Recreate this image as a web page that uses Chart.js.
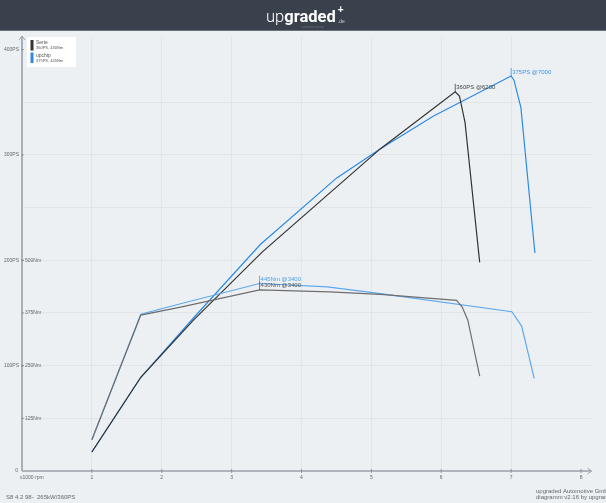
<!DOCTYPE html>
<html>
<head>
<meta charset="utf-8">
<script src="https://cdn.jsdelivr.net/npm/chart.js@4/dist/chart.umd.min.js"></script>
<style>
  html, body { margin: 0; padding: 0; background: #edf0f3; }
  canvas { display: block; }
</style>
</head>
<body>
<canvas id="dyno" width="606" height="503"></canvas>
<script>
// Serie (stock) curves, x in 1000 rpm
const serieRpmPs = [1.0, 1.7, 2.45, 3.44, 5.13, 6.2, 6.26, 6.34, 6.55];
const seriePs    = [18, 89, 143, 208, 306, 360, 356, 331, 198];
const serieRpmNm = [1.0, 1.7, 2.27, 3.4, 4.4, 5.13, 6.22, 6.3, 6.38, 6.55];
const serieNm    = [74, 370, 389, 430, 425, 419, 405, 389, 358, 225];

// upchip curves
const upRpmPs = [1.0, 1.7, 2.45, 3.41, 4.5, 5.13, 5.89, 7.0, 7.04, 7.14, 7.34];
const upPs    = [18, 89, 145, 215, 278, 306, 337, 375, 371, 345, 207];
const upRpmNm = [1.0, 1.7, 2.27, 3.4, 4.37, 5.13, 7.01, 7.15, 7.33];
const upNm    = [74, 372, 397, 445, 437, 421, 378, 344, 220];

const psTicks = [100, 200, 300, 400];
const nmTicks = [125, 250, 375, 500];
const rpmTicks = [1, 2, 3, 4, 5, 6, 7, 8];

const peakLabels = [
  { text: '360PS @6200', x: 6.2, y: 360, axis: 'y', color: '#444' },
  { text: '375PS @7000', x: 7.0, y: 375, axis: 'y', color: '#3a93e6' },
  { text: '445Nm @3400', x: 3.4, y: 445, axis: 'y2', color: '#4a9ee8' },
  { text: '430Nm @3400', x: 3.4, y: 430, axis: 'y2', color: '#555' }
];

function pts(xs, ys) {
  return xs.map((x, i) => ({ x: x, y: ys[i] }));
}

const FONT = '"Liberation Sans", Arial, sans-serif';

const decor = {
  id: 'decor',
  beforeDraw(chart) {
    const c = chart.ctx;
    c.save();
    c.fillStyle = '#edf0f3';
    c.fillRect(0, 0, chart.width, chart.height);
    c.restore();
  },
  afterDraw(chart) {
    const c = chart.ctx;
    const xs = chart.scales.x, ys = chart.scales.y, y2 = chart.scales.y2;
    const a = chart.chartArea;
    c.save();

    // header
    c.fillStyle = '#39424c';
    c.fillRect(0, 0, chart.width, 30);
    c.fillStyle = '#6a737c';
    c.fillRect(0, 30, chart.width, 1);
    c.textBaseline = 'alphabetic';
    c.font = '300 16.5px Roboto';
    const w1 = c.measureText('up').width;
    c.font = 'bold 16.5px Roboto';
    const w2 = c.measureText('graded').width;
    const hx = 266;
    c.fillStyle = '#ffffff';
    c.font = '300 16.5px Roboto';
    c.fillText('up', hx, 22);
    c.font = 'bold 16.5px Roboto';
    c.fillText('graded', hx + w1, 22);
    c.font = '5px ' + FONT;
    c.fillStyle = '#c9ced4';
    c.fillText('.de', hx + w1 + w2 + 2, 22.5);
    c.font = 'bold 10px ' + FONT;
    c.fillStyle = '#ffffff';
    c.fillText('+', hx + w1 + w2 + 2, 13);
    c.font = '3px ' + FONT;
    c.fillStyle = '#66707a';
    c.fillText('automotive group', hx + 35, 27.5);

    // axes with arrows
    c.strokeStyle = '#9ca2aa';
    c.lineWidth = 1.6;
    c.beginPath();
    c.moveTo(a.left, a.bottom);
    c.lineTo(a.left, a.top - 1);
    c.moveTo(a.left, a.bottom);
    c.lineTo(a.right, a.bottom);
    c.stroke();
    c.lineWidth = 1;
    c.beginPath();
    c.moveTo(a.left - 3, a.top + 3);
    c.lineTo(a.left, a.top - 1);
    c.lineTo(a.left + 3, a.top + 3);
    c.moveTo(a.right - 4, a.bottom - 3);
    c.lineTo(a.right, a.bottom);
    c.lineTo(a.right - 4, a.bottom + 3);
    c.stroke();

    // y tick labels
    c.fillStyle = '#666';
    c.strokeStyle = '#888';
    c.lineWidth = 0.8;
    c.font = '5px ' + FONT;
    c.textBaseline = 'middle';
    psTicks.forEach(v => {
      const py = ys.getPixelForValue(v);
      c.textAlign = 'right';
      c.fillText(v + 'PS', a.left - 3, py);
      c.beginPath();
      c.moveTo(a.left - 1, py);
      c.lineTo(a.left + 2, py);
      c.stroke();
    });
    nmTicks.forEach(v => {
      const py = y2.getPixelForValue(v);
      c.textAlign = 'left';
      c.fillText(v + 'Nm', a.left + 3, py);
      c.beginPath();
      c.moveTo(a.left - 1, py);
      c.lineTo(a.left + 2, py);
      c.stroke();
    });
    c.textAlign = 'right';
    c.fillText('0', a.left - 4, a.bottom);

    // x tick labels
    c.textAlign = 'center';
    c.textBaseline = 'middle';
    rpmTicks.forEach(v => {
      const px = xs.getPixelForValue(v);
      c.fillText(String(v), px, a.bottom + 7);
      c.beginPath();
      c.moveTo(px, a.bottom - 2);
      c.lineTo(px, a.bottom + 2);
      c.stroke();
    });
    c.textAlign = 'left';
    c.fillText('x1000 rpm', a.left - 2, a.bottom + 7);

    // peak labels
    c.font = '6px ' + FONT;
    peakLabels.forEach(p => {
      const px = xs.getPixelForValue(p.x);
      const py = chart.scales[p.axis].getPixelForValue(p.y);
      c.strokeStyle = p.color;
      c.fillStyle = p.color;
      c.lineWidth = 0.8;
      c.beginPath();
      c.moveTo(px, py);
      c.lineTo(px, py - 8);
      c.stroke();
      c.textAlign = 'left';
      c.fillText(p.text, px + 1, py - 4);
    });

    // legend box
    c.fillStyle = '#ffffff';
    c.fillRect(27, 37, 49, 30);
    c.fillStyle = '#333';
    c.fillRect(30.5, 40, 3, 10.5);
    c.fillStyle = '#2b8be3';
    c.fillRect(30.5, 52.5, 3, 10.5);
    c.fillStyle = '#555';
    c.font = '5px ' + FONT;
    c.fillText('Serie', 36, 43);
    c.fillText('upchip', 36, 55.5);
    c.font = '4px ' + FONT;
    c.fillText('360PS, 430Nm', 36, 47.8);
    c.fillText('375PS, 445Nm', 36, 60.5);

    // footer
    c.fillStyle = '#666';
    c.font = '6px ' + FONT;
    c.fillText('S8 4.2 98-  265kW/360PS', 6, 497);
    c.fillText('upgraded Automotive GmbH', 536, 491);
    c.fillText('diagramm v2.16 by upgraded', 536, 497.5);
    c.restore();
  }
};

new Chart(document.getElementById('dyno'), {
  type: 'line',
  data: {
    datasets: [
      { label: 'Serie Nm', data: pts(serieRpmNm, serieNm), yAxisID: 'y2', borderColor: '#6e6e6e' },
      { label: 'upchip Nm', data: pts(upRpmNm, upNm), yAxisID: 'y2', borderColor: '#5ea9ee' },
      { label: 'Serie PS', data: pts(serieRpmPs, seriePs), yAxisID: 'y', borderColor: '#333333' },
      { label: 'upchip PS', data: pts(upRpmPs, upPs), yAxisID: 'y', borderColor: '#2b8be3' }
    ]
  },
  options: {
    responsive: false,
    animation: false,
    layout: { padding: { top: 37, right: 14.5, left: 0, bottom: 0 } },
    elements: {
      point: { radius: 0 },
      line: { tension: 0, borderWidth: 1.2, fill: false }
    },
    plugins: { legend: { display: false }, tooltip: { enabled: false } },
    scales: {
      x: {
        type: 'linear', min: 0, max: 8.15,
        ticks: { display: false, stepSize: 1 },
        grid: { color: '#e1e5ea', drawTicks: false },
        border: { display: false },
        afterBuildTicks: s => { s.ticks = s.ticks.filter(t => Number.isInteger(t.value)); },
        afterFit: s => { s.height = 32; }
      },
      y: {
        min: 0, max: 412,
        ticks: { display: false, stepSize: 50 },
        grid: { color: '#e1e5ea', drawTicks: false },
        border: { display: false },
        afterBuildTicks: s => { s.ticks = s.ticks.filter(t => t.value % 50 === 0); },
        afterFit: s => { s.width = 22; }
      },
      y2: { min: 0, max: 1030, display: false }
    }
  },
  plugins: [decor]
});
</script>
</body>
</html>
